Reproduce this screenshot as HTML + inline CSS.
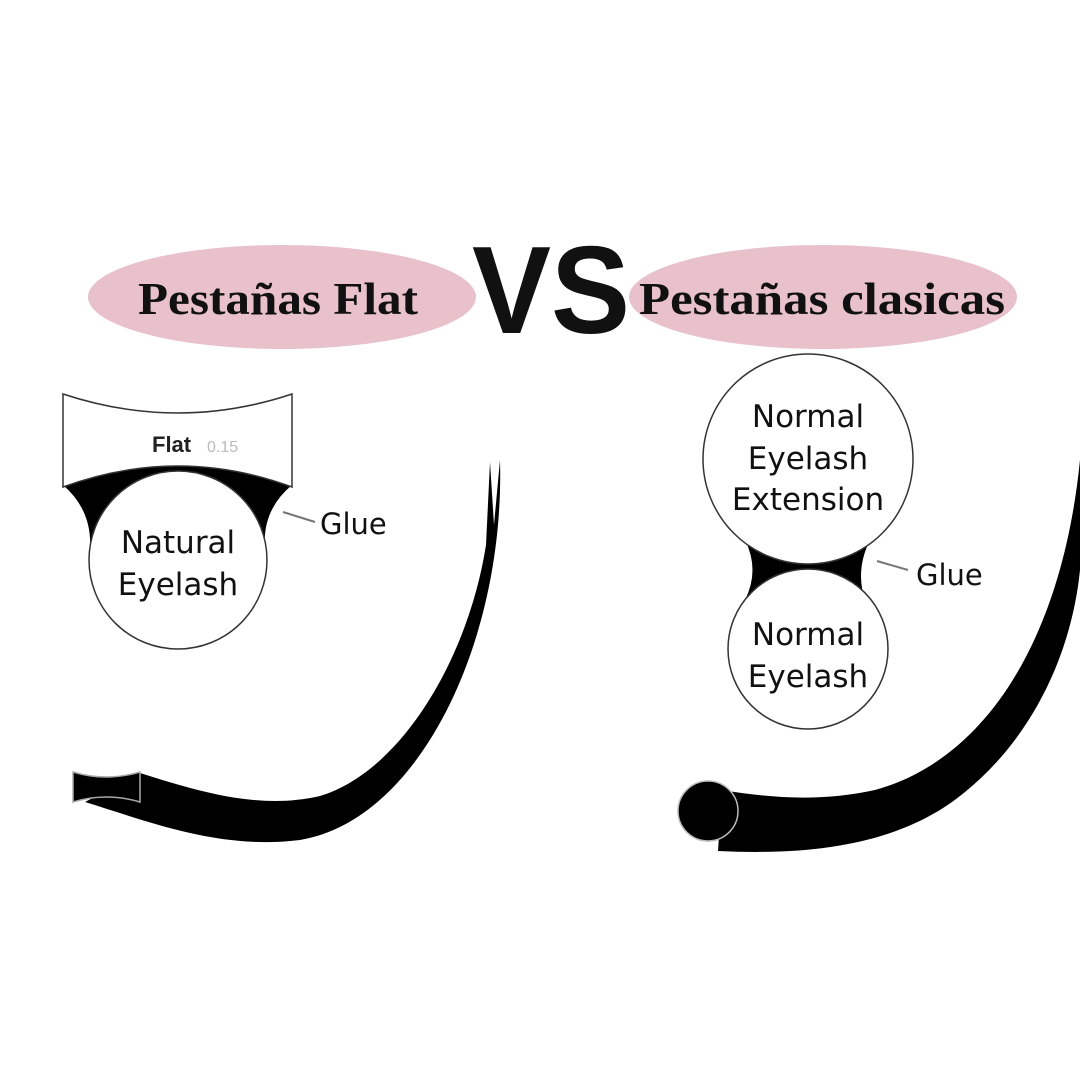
<!DOCTYPE html>
<html><head><meta charset="utf-8"><style>
html,body{margin:0;padding:0;background:#fff;}
svg{display:block;}
</style></head><body>
<svg width="1080" height="1080" viewBox="0 0 1080 1080" xmlns="http://www.w3.org/2000/svg">
<rect width="1080" height="1080" fill="#fff"/>
<ellipse cx="282" cy="297" rx="194" ry="52" fill="#e8c1cb"/>
<ellipse cx="823" cy="297" rx="194" ry="52" fill="#e8c1cb"/>
<text x="278" y="314" text-anchor="middle" font-family="Liberation Serif, serif" font-weight="bold" font-size="46" fill="#111" textLength="280" lengthAdjust="spacingAndGlyphs">Pestañas Flat</text>
<text x="822" y="314" text-anchor="middle" font-family="Liberation Serif, serif" font-weight="bold" font-size="46" fill="#111" textLength="366" lengthAdjust="spacingAndGlyphs">Pestañas clasicas</text>
<text x="551" y="333" text-anchor="middle" font-family="Liberation Sans, sans-serif" font-weight="bold" font-size="124" fill="#111" textLength="158" lengthAdjust="spacingAndGlyphs">VS</text>

<path d="M63,485 Q178,440 292,485 Q262,510 265,548 L90,548 Q92,510 63,485 Z" fill="#000"/>
<circle cx="178" cy="560" r="89" fill="#fff" stroke="#333" stroke-width="1.5"/>
<path d="M63,394 Q178,432 292,394 L292,487 Q178,445 63,487 Z" fill="#fff" stroke="#333" stroke-width="1.5"/>
<text x="152" y="452" font-family="Liberation Sans, sans-serif" font-weight="bold" font-size="22" fill="#222">Flat</text>
<text x="207" y="452" font-family="Liberation Sans, sans-serif" font-size="16" fill="#bbb">0.15</text>
<text x="178" y="553" text-anchor="middle" font-family="DejaVu Sans, sans-serif" font-size="31" fill="#111">Natural</text>
<text x="178" y="595" text-anchor="middle" font-family="DejaVu Sans, sans-serif" font-size="31" fill="#111">Eyelash</text>
<line x1="283" y1="512" x2="315" y2="522" stroke="#777" stroke-width="2"/>
<text x="320" y="534" font-family="DejaVu Sans, sans-serif" font-size="29" fill="#111">Glue</text>
<path d="M500,460 C505,640 420,820 300,840 C220,850 150,822 85,802 L140,773 C200,792 260,810 320,796 C400,772 468,660 486,545 L490,462 L494,525 Z" fill="#000"/>
<path d="M73,772 Q106,782 140,772 L140,802 Q106,792 73,802 Z" fill="#000" stroke="#aaa" stroke-width="1.5"/>

<path d="M745,540 L870,540 Q855,570 865,600 L745,600 Q760,570 745,540 Z" fill="#000"/>
<circle cx="808" cy="459" r="105" fill="#fff" stroke="#333" stroke-width="1.5"/>
<circle cx="808" cy="649" r="80" fill="#fff" stroke="#333" stroke-width="1.5"/>
<text x="808" y="427" text-anchor="middle" font-family="DejaVu Sans, sans-serif" font-size="31" fill="#111">Normal</text>
<text x="808" y="469" text-anchor="middle" font-family="DejaVu Sans, sans-serif" font-size="31" fill="#111">Eyelash</text>
<text x="808" y="510" text-anchor="middle" font-family="DejaVu Sans, sans-serif" font-size="31" fill="#111">Extension</text>
<text x="808" y="645" text-anchor="middle" font-family="DejaVu Sans, sans-serif" font-size="31" fill="#111">Normal</text>
<text x="808" y="687" text-anchor="middle" font-family="DejaVu Sans, sans-serif" font-size="31" fill="#111">Eyelash</text>
<line x1="877" y1="561" x2="908" y2="570" stroke="#777" stroke-width="2"/>
<text x="916" y="585" font-family="DejaVu Sans, sans-serif" font-size="29" fill="#111">Glue</text>
<path d="M1080,460 C1062,640 985,760 875,790 C820,802 770,798 722,790 L718,851 C820,856 905,842 965,792 C1035,735 1072,650 1080,570 Z" fill="#000"/>
<circle cx="708" cy="811" r="30" fill="#000" stroke="#bbb" stroke-width="1.5"/>
</svg>
</body></html>
